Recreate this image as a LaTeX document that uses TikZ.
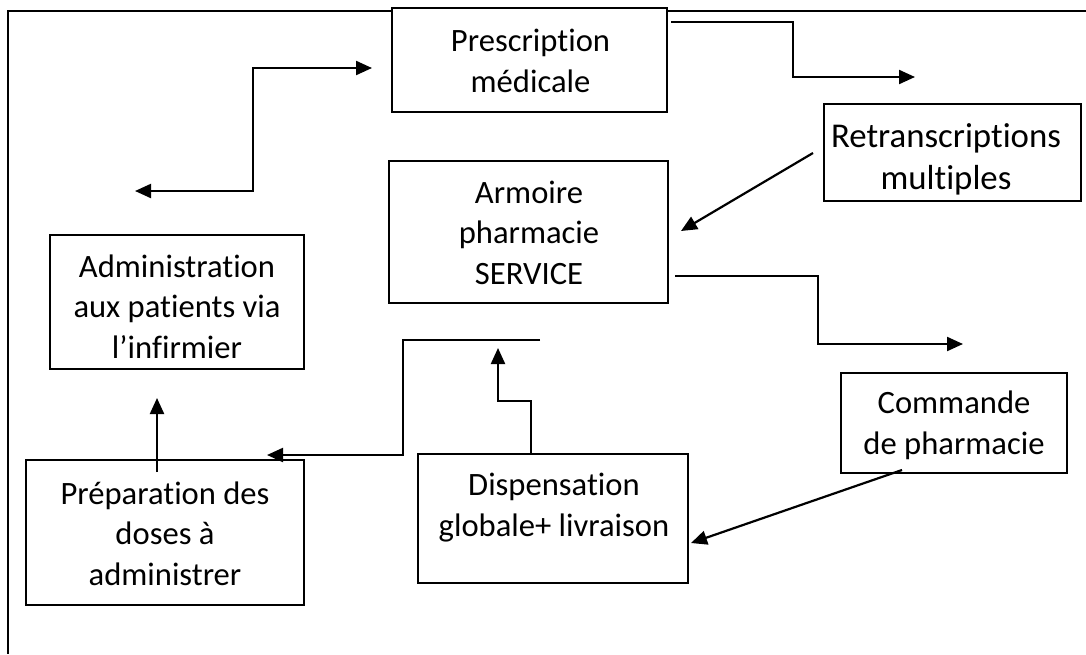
\documentclass[tikz,border=0pt]{standalone}
\usepackage{fontspec}
\setmainfont{Carlito}[Ligatures={NoCommon}]
\usetikzlibrary{arrows.meta}
% centred multi-line label whose baseline is the baseline of its last line
\newcommand\stacklines[1]{\begin{tabular}[b]{@{}c@{}}#1\end{tabular}}

\begin{document}
\begin{tikzpicture}[x=1pt,y=-1pt,
  every node/.style={inner sep=0pt, outer sep=0pt},
  procbox/.style={draw, line width=2.2pt, fill=white},
  boxlabel/.style={anchor=base, font=\fontsize{32.6}{40.5}\selectfont},
  biglabel/.style={anchor=base, font=\fontsize{34.8}{42}\selectfont},
  frameline/.style={line width=2.2pt},
  flow/.style={line width=2.2pt, -{Triangle[length=16pt,width=14pt]}},
  bothflow/.style={line width=2.2pt, {Triangle[length=16pt,width=14pt]}-{Triangle[length=16pt,width=14pt]}}]

\useasboundingbox (0,0) rectangle (1086,654);

% open frame: top and left sides only
\coordinate (frame-tr) at (1086,11);
\coordinate (frame-tl) at (8,11);
\coordinate (frame-bl) at (8,654);
\draw[frameline] (frame-tr) -- (frame-tl) -- (frame-bl);

% process boxes
\node[procbox, minimum width=275pt, minimum height=104pt] (presc) at (529.5,60)  {};
\node[procbox, minimum width=257pt, minimum height=97pt]  (retr)  at (952.5,152.5) {};
\node[procbox, minimum width=279pt, minimum height=142pt] (arm)   at (528.5,232) {};
\node[procbox, minimum width=254pt, minimum height=134pt] (admin) at (177,302)   {};
\node[procbox, minimum width=226pt, minimum height=100pt] (comm)  at (954,423)   {};
\node[procbox, minimum width=278pt, minimum height=145pt] (prep)  at (165,532.5) {};
\node[procbox, minimum width=270pt, minimum height=129pt] (disp)  at (553,518.5) {};

% labels
\node[boxlabel] (presc-l) at (530.5,92)  {\stacklines{Prescription\\médicale}};
\begin{scope}
  % the second line runs into the lower edge of its box and is cut there
  \clip ([yshift=1.1pt]retr.south west) rectangle (retr.north east);
  \node[biglabel] (retr-l) at (946,189) {\stacklines{Retranscriptions\\multiples}};
\end{scope}
\node[boxlabel] (arm-l)   at (529,284)   {\stacklines{Armoire\\pharmacie\\SERVICE}};
\node[boxlabel] (admin-l) at (177,358)   {\stacklines{Administration\\aux patients via\\l’infirmier}};
\node[boxlabel] (comm-l)  at (954,454)   {\stacklines{Commande\\de pharmacie}};
\node[boxlabel] (prep-l)  at (165,585)   {\stacklines{Préparation des\\doses à\\administrer}};
\node[boxlabel] (disp-l)  at (554,536)   {\stacklines{Dispensation\\globale+ livraison}};

% connector end points
\coordinate (admin-in)  at (135,191);
\coordinate (presc-in)  at (372,68);
\coordinate (presc-out) at (671,22);
\coordinate (presc-end) at (915,77);
\coordinate (retr-out)  at (813,153);
\coordinate (arm-in)    at (681,231);
\coordinate (arm-out)   at (675,276);
\coordinate (arm-end)   at (963,344);
\coordinate (comm-out)  at (902,470);
\coordinate (disp-in)   at (691,543);
\coordinate (disp-out)  at (531,454);
\coordinate (bar-tip)   at (498,348);
\coordinate (bar-end)   at (540,340);
\coordinate (bar-drop)  at (403,340);
\coordinate (prep-in)   at (267,455);
\coordinate (prep-out)  at (157,472);
\coordinate (admin-up)  at (157,398);

% connectors
\draw[bothflow] (admin-in) -- (253,191) -- (253,68) -- (presc-in);
\draw[flow] (presc-out) -- (793,22) -- (793,77) -- (presc-end);
\draw[flow] (retr-out) -- (arm-in);
\draw[flow] (arm-out) -- (818,276) -- (818,344) -- (arm-end);
\draw[flow] (comm-out) -- (disp-in);
\draw[flow] (disp-out) -- (531,401) -- (498,401) -- (bar-tip);
\draw[flow] (bar-end) -- (bar-drop) -- (403,455) -- (prep-in);
\draw[flow] (prep-out) -- (admin-up);
\end{tikzpicture}
\end{document}
